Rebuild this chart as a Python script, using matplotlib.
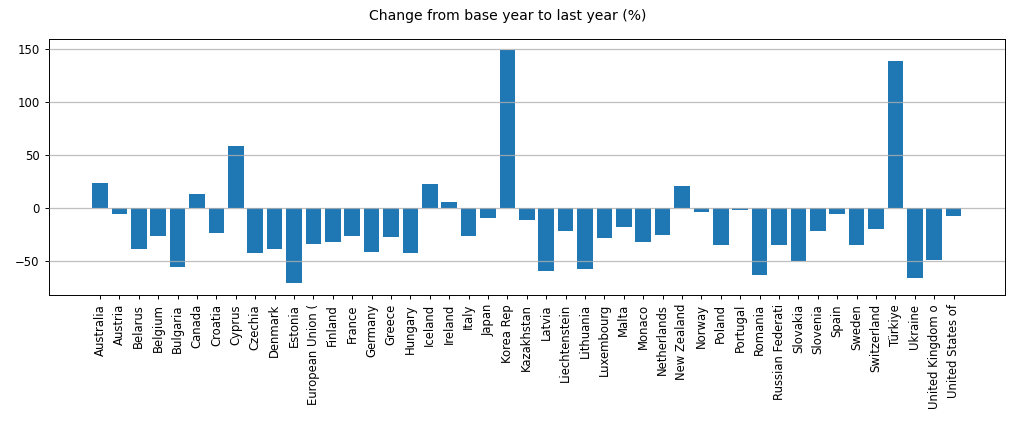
import matplotlib
matplotlib.use("Agg")
import matplotlib.pyplot as plt

# ─── DATA ─────────────────────────────────────────────────────
countries = [
    "Australia", "Austria", "Belarus", "Belgium", "Bulgaria", "Canada",
    "Croatia", "Cyprus", "Czechia", "Denmark", "Estonia", "European Union (",
    "Finland", "France", "Germany", "Greece", "Hungary", "Iceland", "Ireland",
    "Italy", "Japan", "Korea Rep", "Kazakhstan", "Latvia", "Liechtenstein",
    "Lithuania", "Luxembourg", "Malta", "Monaco", "Netherlands", "New Zealand",
    "Norway", "Poland", "Portugal", "Romania", "Russian Federati", "Slovakia",
    "Slovenia", "Spain", "Sweden", "Switzerland", "Türkiye", "Ukraine",
    "United Kingdom o", "United States of",
]
change_pct = [
    23.6, -6.0, -39.3, -27.0, -56.3, 13.2,
    -24.2, 58.8, -43.0, -39.3, -71.4, -34.6,
    -32.7, -27.0, -41.5, -27.7, -43.0, 22.6, 6.0,
    -27.0, -9.7, 149.0, -11.0, -59.4, -21.4,
    -57.5, -28.9, -18.2, -32.0, -25.2, 20.8,
    -4.0, -35.5, -1.5, -63.8, -35.5, -50.0,
    -22.3, -5.3, -35.5, -19.5, 138.7, -66.7,
    -49.4, -7.2,
]

# ─── PLOT ─────────────────────────────────────────────────────
fig, ax = plt.subplots(figsize=(10.16, 4.41), dpi=100)
fig.subplots_adjust(left=0.048, right=0.989, top=0.912, bottom=0.331)

ax.bar(countries, change_pct, color="#1f77b4", width=0.8)
ax.set_axisbelow(False)
ax.grid(axis="y", color="#b0b0b0", alpha=0.8, linewidth=0.9)
ax.tick_params(axis="x", rotation=90)
ax.tick_params(labelsize=8.4, length=3, width=0.7)
for s in ax.spines.values():
    s.set_linewidth(0.7)

fig.suptitle("Change from base year to last year (%)", fontsize=10.1)

fig.savefig("out.png", dpi=100)
